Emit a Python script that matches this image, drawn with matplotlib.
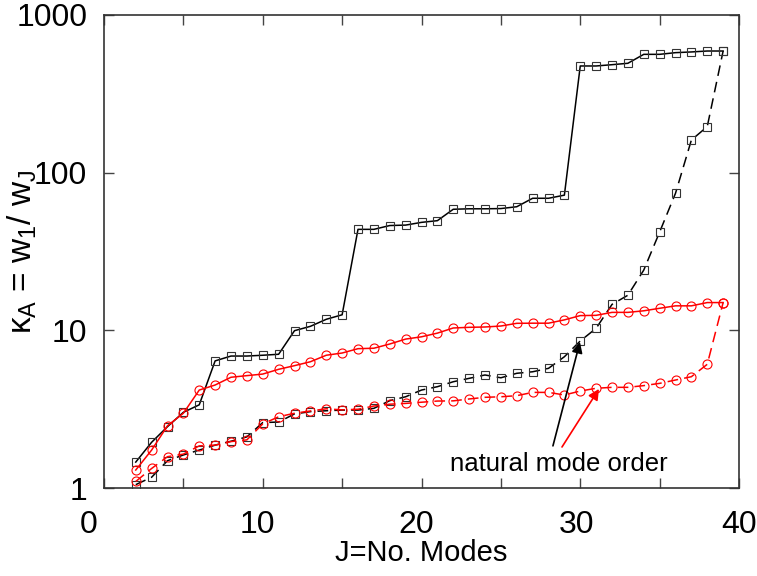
import matplotlib
matplotlib.use("Agg")
import matplotlib.pyplot as plt
import matplotlib.transforms as mtransforms

plt.rcParams['font.family'] = ['Liberation Sans', 'DejaVu Sans']
plt.rcParams['mathtext.fontset'] = 'custom'
plt.rcParams['mathtext.rm'] = 'Liberation Sans'
plt.rcParams['mathtext.it'] = 'Liberation Sans'
plt.rcParams['mathtext.bf'] = 'Liberation Sans:bold'

# ---- data ----
modes = list(range(2, 40))

black_solid = [1.46, 1.95, 2.45, 3.02, 3.37, 6.4, 6.87, 6.87, 6.95, 7.05,
               9.95, 10.6, 11.75, 12.55, 43.7, 43.7, 46.2, 46.5, 48.4, 49.6,
               58.6, 59.0, 59.0, 59.2, 60.8, 68.8, 68.8, 72.0, 475, 475,
               484, 494, 563, 563, 577, 583, 591, 591]

black_dashed = [1.05, 1.17, 1.49, 1.62, 1.74, 1.87, 1.98, 2.11, 2.6, 2.62,
                2.95, 3.05, 3.09, 3.12, 3.12, 3.2, 3.58, 3.79, 4.18, 4.39,
                4.72, 4.96, 5.21, 5.0, 5.34, 5.46, 5.74, 6.8, 8.56, 10.3,
                14.6, 16.7, 24.1, 42.0, 74.0, 161, 196, 591]

red_solid = [1.30, 1.74, 2.48, 2.98, 4.18, 4.5, 5.04, 5.16, 5.28, 5.66,
             5.97, 6.32, 6.95, 7.18, 7.65, 7.7, 8.19, 8.8, 9.1, 9.6,
             10.35, 10.45, 10.5, 10.65, 11.08, 11.1, 11.1, 11.65, 12.4, 12.45,
             13.0, 13.0, 13.3, 13.8, 14.3, 14.3, 15.0, 15.0]

red_dashed = [1.10, 1.33, 1.58, 1.64, 1.85, 1.87, 1.97, 2.02, 2.55, 2.83,
              2.98, 3.08, 3.18, 3.13, 3.16, 3.31, 3.4, 3.44, 3.5, 3.56,
              3.57, 3.67, 3.76, 3.79, 3.85, 4.04, 4.04, 3.89, 4.12, 4.29,
              4.35, 4.35, 4.46, 4.61, 4.84, 5.08, 6.09, 15.0]

xticks = [0, 5, 10, 15, 20, 25, 30, 35, 40]
xtick_labels = ['0', '', '10', '', '20', '', '30', '', '40']
yticks = [1, 10, 100, 1000]
ytick_labels = ['1', '10', '100', '1000']

# ---- figure ----
W, H = 757, 576
fig = plt.figure(figsize=(W / 100, H / 100), dpi=100)
ax = fig.add_axes([104 / W, 1 - 488 / H, 635 / W, 473 / H])

dash = (0, (7, 4))
ax.plot(modes, black_dashed, color='black', lw=1.1, ls=dash, marker='s',
        ms=5.2, mfc='none', mec='#333333', mew=0.8, zorder=2)
ax.plot(modes, red_dashed, color='#ff0000', lw=1.1, ls=dash, marker='o',
        ms=6.5, mfc='none', mec='#ff0000', mew=0.8, zorder=3)
ax.plot(modes, black_solid, color='black', lw=1.1, ls='-', marker='s',
        ms=5.2, mfc='none', mec='#333333', mew=0.8, zorder=4)
ax.plot(modes, red_solid, color='#ff0000', lw=1.1, ls='-', marker='o',
        ms=6.5, mfc='none', mec='#ff0000', mew=0.8, zorder=5)

ax.set_yscale('log')
ax.set_xlim(0, 40)
ax.set_ylim(1, 1000)

ax.set_xticks(xticks)
ax.set_xticklabels(xtick_labels)
ax.set_yticks(yticks)
ax.set_yticklabels(ytick_labels)
ax.yaxis.set_minor_locator(matplotlib.ticker.NullLocator())

ax.tick_params(axis='both', which='both', direction='in', length=7,
               width=1, color='#444444', top=True, right=True,
               labelsize=23)
ax.tick_params(axis='x', pad=16)
ax.tick_params(axis='y', pad=12)

# slight left shift of x tick labels as in reference
for lab, dx in zip(ax.get_xticklabels(), [-15, 0, -5, 0, -5, 0, -4, 0, 0]):
    lab.set_transform(lab.get_transform() +
                      mtransforms.ScaledTranslation(dx / 100, 0, fig.dpi_scale_trans))

for sp in ax.spines.values():
    sp.set_color('#333333')
    sp.set_linewidth(1.2)

ax.set_xlabel('J=No. Modes', fontsize=21, va='center')
ax.xaxis.set_label_coords(0.5, -(553 - 488) / 473)
ax.set_ylabel(r'$\kappa_A$ = w$_1$/ w$_J$', fontsize=24, va='center')
ax.yaxis.set_label_coords((22 - 104) / 635, 0.5)

ax.text(28.66, 1.42, 'natural mode order', fontsize=18.5, ha='center',
        va='center', zorder=6)
ax.annotate('', xy=(29.98, 8.43), xytext=(28.28, 1.85),
            arrowprops=dict(arrowstyle='-|>', color='black', lw=1.2,
                            mutation_scale=16, shrinkA=0, shrinkB=0),
            zorder=6)
ax.annotate('', xy=(31.18, 4.25), xytext=(28.85, 1.82),
            arrowprops=dict(arrowstyle='-|>', color='#ff0000', lw=1.2,
                            mutation_scale=16, shrinkA=0, shrinkB=0),
            zorder=6)

fig.savefig('out.png', dpi=100)
